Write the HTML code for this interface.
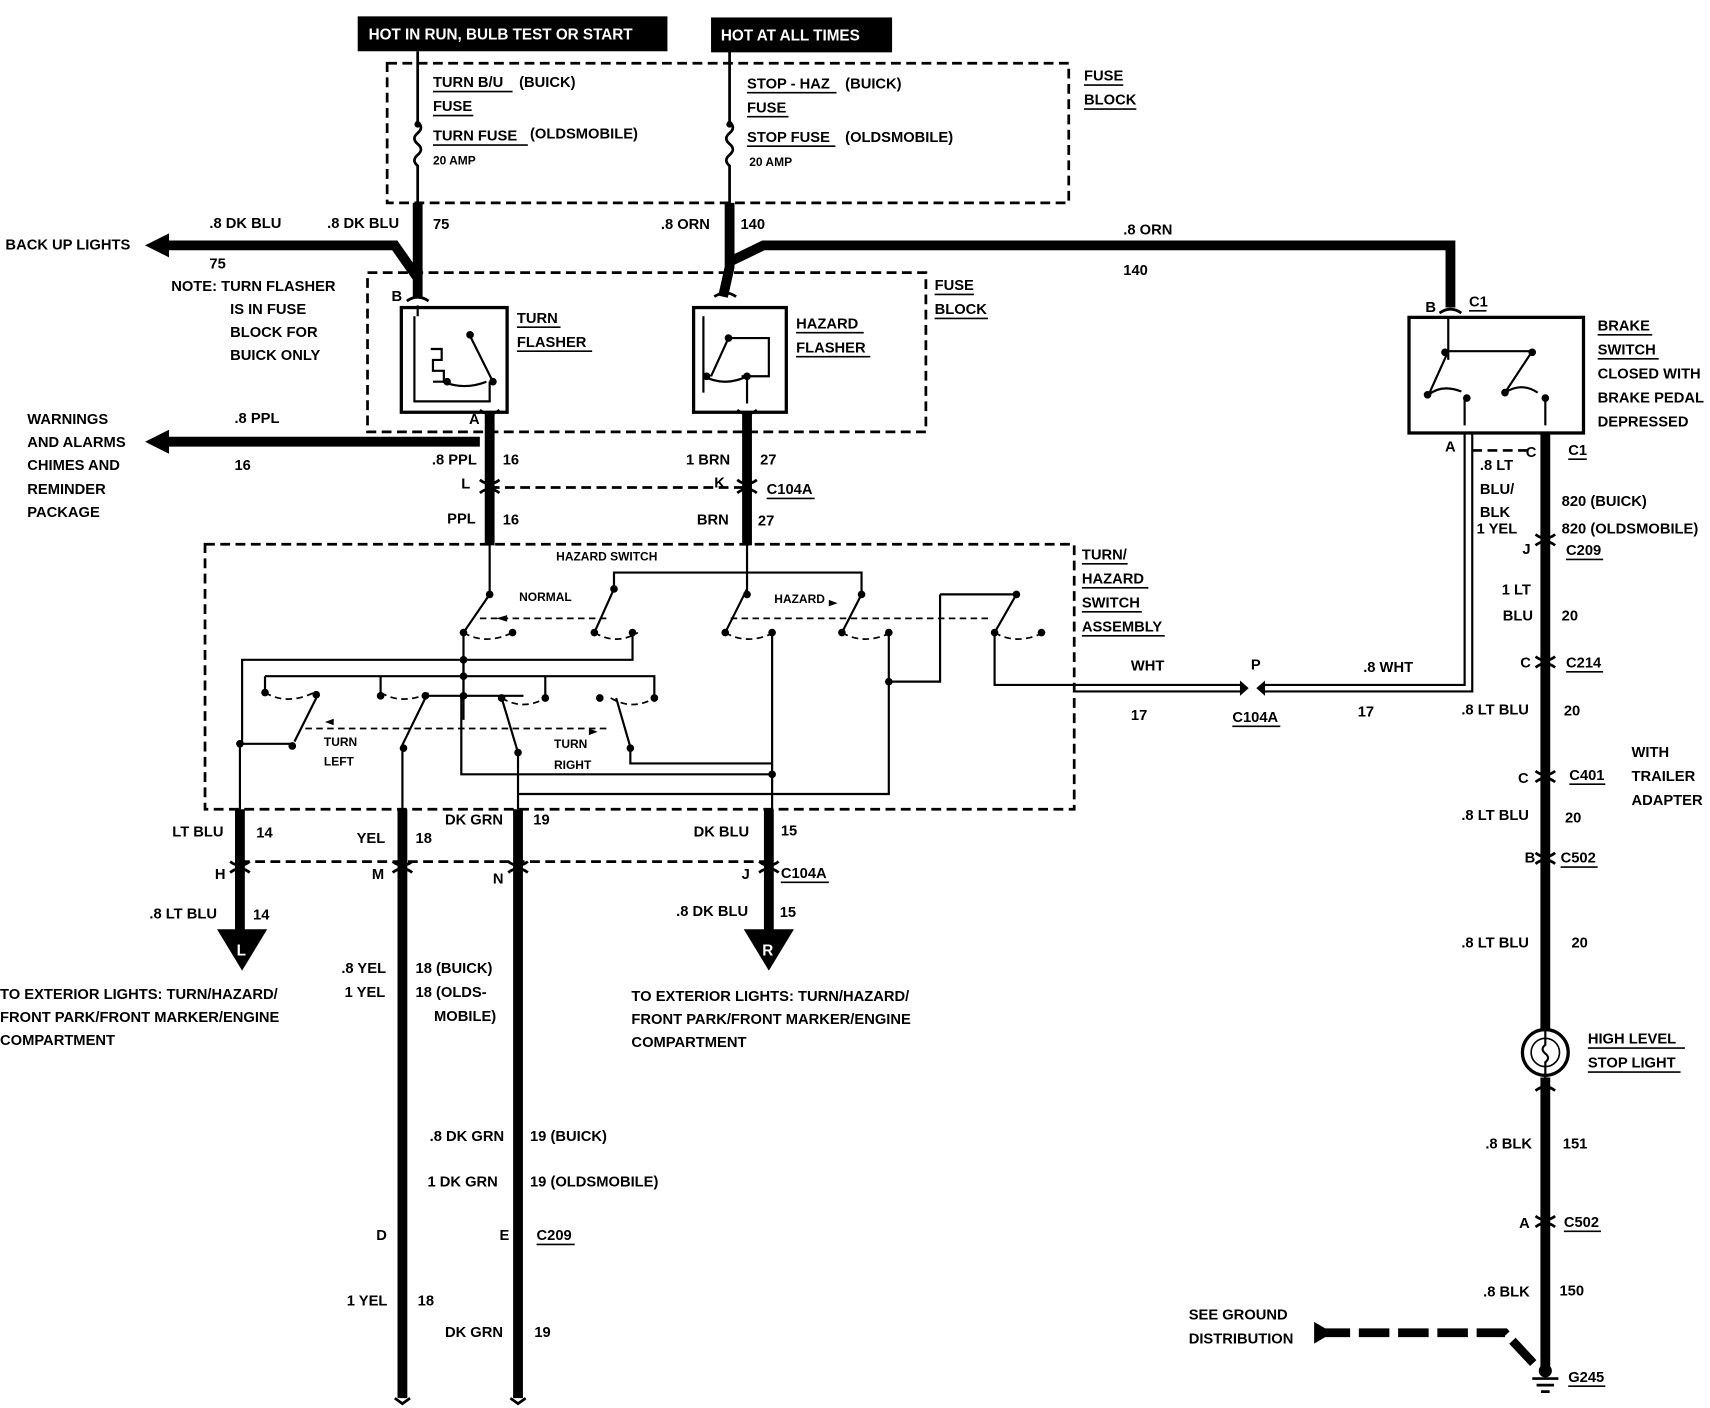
<!DOCTYPE html>
<html><head><style>
html,body{margin:0;padding:0;background:#fff;}
svg{display:block;}
text{font-family:"Liberation Sans",sans-serif;font-weight:bold;font-size:13.5px;fill:#000;}
.s{font-size:11px;}
.w{fill:#fff;font-size:14px;}
</style></head><body>
<svg width="1710" height="1408" viewBox="0 0 1568 1291" preserveAspectRatio="none" xmlns="http://www.w3.org/2000/svg">
<rect width="1568" height="1291" fill="#fff"/>
<rect x="328" y="15" width="284" height="32" fill="#000"/>
<text x="338" y="36" class="w">HOT IN RUN, BULB TEST OR START</text>
<rect x="652" y="16" width="166" height="32" fill="#000"/>
<text x="661" y="37" class="w">HOT AT ALL TIMES</text>
<g fill="none" stroke="#000" stroke-width="2.5" stroke-dasharray="9,5">
<rect x="355" y="58" width="625" height="128"/>
<rect x="337" y="250" width="512" height="146"/>
<rect x="188" y="499" width="797" height="243"/>
<path d="M449 447H685M220 790H705M1350 413H1405"/>
</g>
<g fill="none" stroke="#000" stroke-width="2.5">
<path d="M383 47V112 q6 5 0 10 q-6 5 0 10 q6 5 0 10 q-6 5 0 10 V186"/>
<path d="M669 47V112 q6 5 0 10 q-6 5 0 10 q6 5 0 10 q-6 5 0 10 V186"/>
</g>
<circle cx="383" cy="114" r="3"/><circle cx="669" cy="114" r="3"/>
<text x="397" y="80">TURN B/U</text><text x="476" y="80">(BUICK)</text>
<text x="397" y="102">FUSE</text>
<text x="397" y="129">TURN FUSE</text><text x="486" y="127">(OLDSMOBILE)</text>
<text x="397" y="151" class="s">20 AMP</text>
<text x="685" y="81">STOP - HAZ</text><text x="775" y="81">(BUICK)</text>
<text x="685" y="103">FUSE</text>
<text x="685" y="130">STOP FUSE</text><text x="775" y="130">(OLDSMOBILE)</text>
<text x="687" y="152" class="s">20 AMP</text>
<text x="994" y="74">FUSE</text><text x="994" y="96">BLOCK</text>
<g fill="none" stroke="#000" stroke-width="9" stroke-linejoin="miter">
<path d="M383 186V250L383 272M383 255L362 225H150"/>
<path d="M669 186V245L663 272M669 240L700 225H1330V282"/>
<path d="M449 378V500M440 405H150"/>
<path d="M685 378V500"/>
<path d="M220 742V855"/>
<path d="M369 742V1282"/>
<path d="M475 742V1282"/>
<path d="M705 742V855"/>
<path d="M1417 397V945M1417 988V1255"/>
</g>
<path d="M133 225L155 214V236Z"/><path d="M133 405L155 394V416Z"/>
<path d="M199 852H245L222 890Z"/><path d="M682 852H728L705 890Z"/>
<text x="217" y="876" class="w">L</text><text x="699" y="876" class="w">R</text>
<path d="M1210 1222H1380L1408 1252" fill="none" stroke="#000" stroke-width="8" stroke-dasharray="28,8"/>
<path d="M1205 1212L1222 1222L1205 1232Z"/>
<g stroke="#000" stroke-width="2.5"><path d="M1405 1264H1429M1409 1270H1425M1413 1276H1421"/></g>
<circle cx="1417" cy="1257" r="6"/>
<g fill="none" stroke="#000" stroke-width="2.5">
<path d="M440 440q9 7 18 0M440 452q9-7 18 0"/><path d="M676 440q9 7 18 0M676 452q9-7 18 0"/>
<path d="M440 376q9 7 18 0"/><path d="M676 376q9 7 18 0"/>
<path d="M373 276q10-7 20 0"/><path d="M655 272q10-7 20 0"/>
<path d="M211 790q9 7 18 0M211 800q9-7 18 0"/><path d="M360 790q9 7 18 0M360 800q9-7 18 0"/>
<path d="M466 790q9 7 18 0M466 800q9-7 18 0"/><path d="M696 790q9 7 18 0M696 800q9-7 18 0"/>
<path d="M1320 287q10-7 20 0"/>
<path d="M1408 490q9 7 18 0M1408 500q9-7 18 0"/><path d="M1408 602q9 7 18 0M1408 612q9-7 18 0"/>
<path d="M1408 707q9 7 18 0M1408 717q9-7 18 0"/><path d="M1408 782q9 7 18 0M1408 792q9-7 18 0"/>
<path d="M1408 1115q9 7 18 0M1408 1125q9-7 18 0"/>
<path d="M1408 1000q9-7 18 0"/>
<path d="M362 1282l7 5 7-5M468 1282l7 5 7-5"/>
</g>
<g fill="none" stroke="#000" stroke-width="3">
<rect x="368" y="282" width="97" height="96"/>
<rect x="636" y="282" width="85" height="96"/>
<rect x="1292" y="291" width="160" height="106"/>
</g>
<g fill="none" stroke="#000" stroke-width="2">
<path d="M380 290V368H449V350M383 290L383 280"/>
<path d="M431 308L452 350M395 320h10v10h-8v10h10v10h-10M406 350q20 8 40 0"/>
<path d="M645 290V360M652 345L668 310H705V345L680 345M645 345q20 10 40 0M685 345V370"/>
<path d="M1328 290V330M1310 362L1328 322H1405L1380 360M1310 362q12 -10 30 -3M1380 360q15-10 30 0M1343 365V390M1417 365V390"/>
</g>
<g>
<circle cx="431" cy="307" r="3.5"/><circle cx="410" cy="350" r="3.5"/><circle cx="452" cy="350" r="3.5"/>
<circle cx="668" cy="310" r="3.5"/><circle cx="648" cy="345" r="3.5"/><circle cx="685" cy="345" r="3.5"/>
<circle cx="1325" cy="323" r="3.5"/><circle cx="1405" cy="323" r="3.5"/><circle cx="1309" cy="362" r="3.5"/><circle cx="1345" cy="365" r="3.5"/><circle cx="1380" cy="360" r="3.5"/><circle cx="1417" cy="365" r="3.5"/>
</g>
<text x="474" y="296">TURN</text><text x="474" y="318">FLASHER</text>
<text x="730" y="301">HAZARD</text><text x="730" y="323">FLASHER</text>
<text x="857" y="266">FUSE</text><text x="857" y="288">BLOCK</text>
<text x="1465" y="303">BRAKE</text><text x="1465" y="325">SWITCH</text><text x="1465" y="347">CLOSED WITH</text><text x="1465" y="369">BRAKE PEDAL</text><text x="1465" y="391">DEPRESSED</text>
<g fill="none" stroke="#000" stroke-width="2">
<path d="M449 500V545M685 500V545"/>
<path d="M449 545L425 580M425 580V660"/>
<path d="M563 540L545 580M563 540V525H685M685 540L665 580M790 545L772 580M685 525H790V545"/>
<path d="M932 545L912 580M862 545H932M862 545V625H815M912 580V628H985"/>
<path d="M580 582V605H222V682H268M708 582V710H423V638M815 582V695M815 695V728H475M708 710V742"/>
<path d="M243 620V635M243 620H600V640M349 620V640M500 620V640M425 605V638"/>
<path d="M290 640L270 680M368 685L390 640M390 638H480M460 640L475 690M565 640L578 685L578 700H708"/>
<path d="M220 682V742M369 685V742M475 690V742"/>
<path d="M985 628H1137M985 634H1137M1160 628H1343V397M1160 634H1350V397"/>
</g>
<g stroke="#000" stroke-width="1.6" fill="none" stroke-dasharray="6,4">
<path d="M425 580q20 12 45 0M545 580q20 12 40 0M665 580q20 12 45 0M772 580q20 12 45 0M912 580q20 12 45 0"/>
<path d="M440 567H560M670 567H910"/>
<path d="M243 635q20 12 45 0M349 635q20 12 45 0M460 640q20 12 40 0M560 640q20 12 40 0"/>
<path d="M280 668H560"/>
</g>
<path d="M1137 624l8 7-8 7zM1160 624l-8 7 8 7z"/>
<g>
<circle cx="449" cy="545" r="3.5"/><circle cx="425" cy="580" r="3.5"/><circle cx="470" cy="580" r="3.5"/>
<circle cx="563" cy="540" r="3.5"/><circle cx="545" cy="580" r="3.5"/><circle cx="580" cy="580" r="3.5"/>
<circle cx="685" cy="545" r="3.5"/><circle cx="665" cy="580" r="3.5"/><circle cx="708" cy="580" r="3.5"/>
<circle cx="790" cy="545" r="3.5"/><circle cx="772" cy="580" r="3.5"/><circle cx="815" cy="580" r="3.5"/>
<circle cx="932" cy="545" r="3.5"/><circle cx="912" cy="580" r="3.5"/><circle cx="955" cy="580" r="3.5"/>
<circle cx="425" cy="605" r="3.5"/><circle cx="425" cy="620" r="3.5"/><circle cx="425" cy="638" r="3.5"/><circle cx="815" cy="625" r="3.5"/>
<circle cx="243" cy="635" r="3.5"/><circle cx="290" cy="637" r="3.5"/><circle cx="349" cy="638" r="3.5"/><circle cx="390" cy="638" r="3.5"/>
<circle cx="460" cy="640" r="3.5"/><circle cx="500" cy="640" r="3.5"/><circle cx="550" cy="640" r="3.5"/><circle cx="600" cy="640" r="3.5"/>
<circle cx="220" cy="682" r="3.5"/><circle cx="268" cy="684" r="3.5"/><circle cx="370" cy="686" r="3.5"/><circle cx="475" cy="690" r="3.5"/><circle cx="578" cy="686" r="3.5"/><circle cx="708" cy="710" r="3.5"/>
</g>
<path d="M455 567l10-3v6z M760 550l8 3-8 3z M298 662l8-3v6z M540 668l8 3-8 3z"/>
<text x="510" y="514" class="s">HAZARD SWITCH</text>
<text x="476" y="551" class="s">NORMAL</text><text x="710" y="553" class="s">HAZARD</text>
<text x="297" y="684" class="s">TURN</text><text x="297" y="702" class="s">LEFT</text>
<text x="508" y="686" class="s">TURN</text><text x="508" y="705" class="s">RIGHT</text>
<text x="992" y="513">TURN/</text><text x="992" y="535">HAZARD</text><text x="992" y="557">SWITCH</text><text x="992" y="579">ASSEMBLY</text>
<circle cx="1417" cy="965" r="21" fill="none" stroke="#000" stroke-width="3"/>
<circle cx="1417" cy="965" r="13" fill="none" stroke="#000" stroke-width="1.5"/>
<path d="M1417 945V958q-5 4 0 8q5 4 0 8V988" fill="none" stroke="#000" stroke-width="2"/>
<text x="5" y="229">BACK UP LIGHTS</text>
<text x="192" y="209">.8 DK BLU</text><text x="300" y="209">.8 DK BLU</text><text x="397" y="210">75</text>
<text x="192" y="246">75</text>
<text x="157" y="267">NOTE:  TURN FLASHER</text><text x="211" y="288">IS IN FUSE</text><text x="211" y="309">BLOCK FOR</text><text x="211" y="330">BUICK ONLY</text>
<text x="359" y="276">B</text><text x="430" y="389">A</text>
<text x="606" y="210">.8 ORN</text><text x="679" y="210">140</text>
<text x="1030" y="215">.8 ORN</text><text x="1030" y="252">140</text>
<text x="1307" y="286">B</text><text x="1347" y="281">C1</text>
<text x="25" y="389">WARNINGS</text><text x="25" y="410">AND ALARMS</text><text x="25" y="431">CHIMES AND</text><text x="25" y="453">REMINDER</text><text x="25" y="474">PACKAGE</text>
<text x="215" y="388">.8 PPL</text><text x="215" y="431">16</text>
<text x="396" y="426">.8 PPL</text><text x="461" y="426">16</text>
<text x="629" y="426">1 BRN</text><text x="697" y="426">27</text>
<text x="423" y="448">L</text><text x="655" y="447">K</text><text x="703" y="453">C104A</text>
<text x="410" y="480">PPL</text><text x="461" y="481">16</text>
<text x="639" y="481">BRN</text><text x="695" y="482">27</text>
<text x="1325" y="414">A</text><text x="1399" y="419">C</text><text x="1438" y="417">C1</text>
<text x="1357" y="431">.8 LT</text><text x="1357" y="453">BLU/</text><text x="1357" y="474">BLK</text><text x="1354" y="489">1 YEL</text>
<text x="1432" y="464">820 (BUICK)</text><text x="1432" y="489">820 (OLDSMOBILE)</text>
<text x="1396" y="508">J</text><text x="1436" y="509">C209</text>
<text x="1377" y="545">1 LT</text><text x="1378" y="569">BLU</text><text x="1432" y="569">20</text>
<text x="1394" y="612">C</text><text x="1436" y="612">C214</text>
<text x="1037" y="615">WHT</text><text x="1147" y="614">P</text><text x="1250" y="616">.8 WHT</text>
<text x="1037" y="660">17</text><text x="1130" y="662">C104A</text><text x="1245" y="657">17</text>
<text x="1340" y="655">.8 LT BLU</text><text x="1434" y="656">20</text>
<text x="1496" y="694">WITH</text><text x="1496" y="716">TRAILER</text><text x="1496" y="738">ADAPTER</text>
<text x="1392" y="718">C</text><text x="1439" y="715">C401</text>
<text x="1340" y="752">.8 LT BLU</text><text x="1435" y="754">20</text>
<text x="1398" y="791">B</text><text x="1431" y="791">C502</text>
<text x="1340" y="869">.8 LT BLU</text><text x="1441" y="869">20</text>
<text x="1456" y="957">HIGH LEVEL</text><text x="1456" y="979">STOP LIGHT</text>
<text x="1362" y="1053">.8 BLK</text><text x="1433" y="1053">151</text>
<text x="1393" y="1126">A</text><text x="1434" y="1125">C502</text>
<text x="1360" y="1189">.8 BLK</text><text x="1430" y="1188">150</text>
<text x="1090" y="1210">SEE GROUND</text><text x="1090" y="1232">DISTRIBUTION</text>
<text x="1438" y="1267">G245</text>
<text x="158" y="767">LT BLU</text><text x="235" y="768">14</text>
<text x="327" y="773">YEL</text><text x="381" y="773">18</text>
<text x="408" y="756">DK GRN</text><text x="489" y="756">19</text>
<text x="636" y="767">DK BLU</text><text x="716" y="766">15</text>
<text x="197" y="806">H</text><text x="341" y="806">M</text><text x="452" y="810">N</text><text x="680" y="806">J</text><text x="716" y="805">C104A</text>
<text x="137" y="842">.8 LT BLU</text><text x="232" y="843">14</text>
<text x="620" y="840">.8 DK BLU</text><text x="715" y="841">15</text>
<text x="0" y="916">TO EXTERIOR LIGHTS: TURN/HAZARD/</text><text x="0" y="937">FRONT PARK/FRONT MARKER/ENGINE</text><text x="0" y="958">COMPARTMENT</text>
<text x="579" y="918">TO EXTERIOR LIGHTS: TURN/HAZARD/</text><text x="579" y="939">FRONT PARK/FRONT MARKER/ENGINE</text><text x="579" y="960">COMPARTMENT</text>
<text x="313" y="892">.8 YEL</text><text x="381" y="892">18 (BUICK)</text>
<text x="316" y="914">1 YEL</text><text x="381" y="914">18 (OLDS-</text><text x="398" y="936">MOBILE)</text>
<text x="394" y="1046">.8 DK GRN</text><text x="486" y="1046">19 (BUICK)</text>
<text x="392" y="1088">1 DK GRN</text><text x="486" y="1088">19 (OLDSMOBILE)</text>
<text x="345" y="1137">D</text><text x="458" y="1137">E</text><text x="492" y="1137">C209</text>
<text x="318" y="1197">1 YEL</text><text x="383" y="1197">18</text>
<text x="408" y="1226">DK GRN</text><text x="490" y="1226">19</text>
<g stroke="#000" stroke-width="1.5">
<path d="M397 84H470M397 106H434M397 133H484M685 85H767M685 107H723M685 134H766M994 78H1030M994 100H1042"/>
<path d="M474 300H514M474 322H543M730 305H792M730 327H798M857 270H893M857 292H906"/>
<path d="M992 517H1034M992 539H1053M992 561H1047M992 583H1068M1465 307H1515M1465 329H1521"/>
<path d="M1347 285H1363M1438 421H1455M1436 513H1470M1436 616H1470M1439 719H1472M1431 795H1465M1130 666H1174M1456 961H1545M1456 983H1541M1434 1129H1468M1438 1271H1472M492 1141H527M716 809H760M703 457H747"/>
</g>
</svg>
</body></html>
